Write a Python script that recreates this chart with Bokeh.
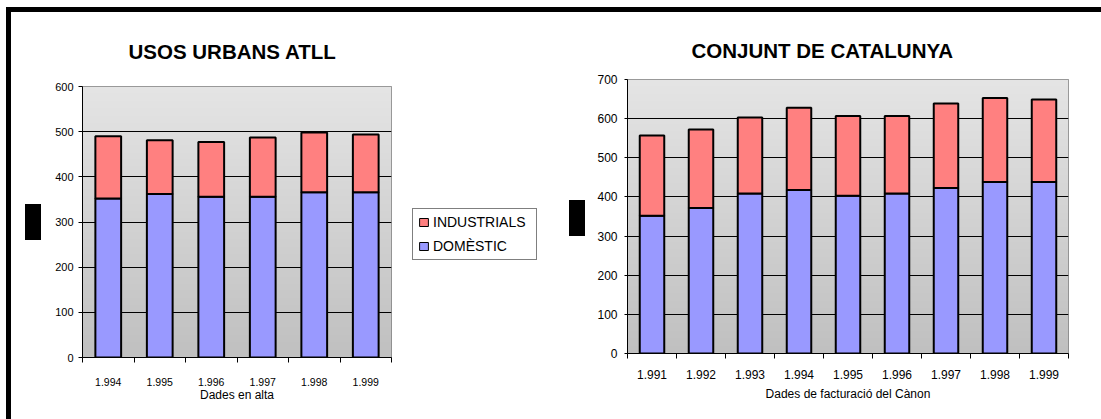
import numpy as np
from bokeh.plotting import figure
from bokeh.layouts import row, column
from bokeh.models import (Range1d, FixedTicker, Legend, LegendItem, ColumnDataSource,
                          Spacer)
from bokeh.embed import file_html
from bokeh.resources import INLINE

# ATLL urban uses (dades en alta)
atll_years = ["1.994", "1.995", "1.996", "1.997", "1.998", "1.999"]
atll_domestic = [352, 362, 356, 356, 366, 366]
atll_industrial = [138, 119, 121, 131, 132, 128]

# Whole of Catalonia (dades de facturació del Cànon)
cat_years = ["1.991", "1.992", "1.993", "1.994", "1.995", "1.996", "1.997", "1.998", "1.999"]
cat_domestic = [352, 372, 409, 418, 403, 409, 423, 438, 438]
cat_industrial = [205, 200, 194, 210, 204, 198, 216, 215, 211]

series_keys = ["domestic", "industrial"]
series_labels = ["DOMÈSTIC", "INDUSTRIALS"]
series_colors = ["#9999FF", "#FF8080"]

FONT = "Liberation Sans"
H = 407  # height below the top rule


def gradient(n_rows=256, bottom=(192, 192, 192), top=(229, 229, 229)):
    t = np.linspace(0.0, 1.0, n_rows)
    img = np.empty((n_rows, 1), dtype=np.uint32)
    view = img.view(dtype=np.uint8).reshape((n_rows, 1, 4))
    for c in range(3):
        view[:, 0, c] = (bottom[c] + (top[c] - bottom[c]) * t).astype(np.uint8)
    view[:, 0, 3] = 255
    return img


def panel(years, domestic, industrial, ymax, title, xlabel, width, height, frame_l,
          frame_r, frame_t, frame_b, ytick_size, xtick_size, ytick_out, ylab_standoff,
          xlab_standoff, xtitle_standoff, title_offset, title_standoff):
    n = len(years)
    centers = [i + 0.5 for i in range(n)]
    bounds = list(range(n + 1))
    p = figure(width=width, height=height, output_backend="svg", toolbar_location=None,
               x_range=Range1d(0, n), y_range=Range1d(0, ymax),
               min_border_left=frame_l, min_border_right=frame_r,
               min_border_top=frame_t, min_border_bottom=frame_b)
    p.background_fill_color = "white"
    p.border_fill_color = "white"
    p.outline_line_color = "#808080"
    p.outline_line_width = 1

    p.image_rgba(image=[gradient()], x=0, y=0, dw=n, dh=ymax, level="image")

    src = ColumnDataSource(dict(x=centers, domestic=domestic, industrial=industrial))
    p.vbar_stack(series_keys, x="x", width=0.5, source=src,
                 fill_color=series_colors, line_color="black", line_width=2)

    # title
    p.title.text = title
    p.title.text_font = FONT
    p.title.text_font_size = "20.5px"
    p.title.text_font_style = "bold"
    p.title.text_color = "black"
    p.title.align = "left"
    p.title.offset = title_offset
    p.title.standoff = title_standoff

    # y axis
    yt = list(range(0, ymax + 1, 100))
    p.yaxis.ticker = FixedTicker(ticks=yt)
    p.yaxis.major_tick_out = ytick_out
    p.yaxis.major_tick_in = 0
    p.yaxis.minor_tick_out = 0
    p.yaxis.axis_line_color = "black"
    p.yaxis.major_tick_line_color = "black"
    p.yaxis.major_label_standoff = ylab_standoff
    p.yaxis.major_label_text_font = FONT
    p.yaxis.major_label_text_font_size = ytick_size
    p.yaxis.major_label_text_color = "black"

    # x axis: labels under bars, ticks between categories
    xa = p.below[0]
    xa.ticker = FixedTicker(ticks=centers, minor_ticks=bounds)
    xa.major_label_overrides = {c: y for c, y in zip(centers, years)}
    xa.major_tick_out = 0
    xa.major_tick_in = 0
    xa.minor_tick_out = 5
    xa.minor_tick_in = 0
    xa.minor_tick_line_color = "black"
    xa.axis_line_color = "black"
    xa.major_label_standoff = xlab_standoff
    xa.major_label_text_font = FONT
    xa.major_label_text_font_size = xtick_size
    xa.major_label_text_color = "black"
    xa.axis_label = xlabel
    xa.axis_label_text_font = FONT
    xa.axis_label_text_font_size = "12px"
    xa.axis_label_text_font_style = "normal"
    xa.axis_label_text_color = "black"
    xa.axis_label_standoff = xtitle_standoff

    p.xgrid.grid_line_color = None
    p.ygrid.grid_line_color = "black"
    p.ygrid.grid_line_width = 1
    return p, src


left, atll_src = panel(atll_years, atll_domestic, atll_industrial, 600,
                       "USOS URBANS ATLL", "Dades en alta", 359, H, 41, 9, 74, 62,
                       "11px", "10.5px", 4, 5, 15, -1, 46, 48)
right, _ = panel(cat_years, cat_domestic, cat_industrial, 700, "CONJUNT DE CATALUNYA",
                 "Dades de facturació del Cànon", 516, H - 5, 42, 33, 62, 66, "12px",
                 "12px", 3, 7, 11, 5, 64, 36)

# legend panel between the two charts
key = figure(width=160, height=H, output_backend="svg", toolbar_location=None,
             x_axis_location=None, y_axis_location=None, min_border=0)
key.outline_line_color = None
key.grid.grid_line_color = None
key.background_fill_color = "white"
key.border_fill_color = "white"
key_rs = key.vbar_stack(series_keys, x="x", width=0.5, source=atll_src,
                        fill_color=series_colors, line_color="black", line_width=1)
for r in key_rs:
    r.visible = False

legend = Legend(items=[LegendItem(label=series_labels[1], renderers=[key_rs[1]]),
                       LegendItem(label=series_labels[0], renderers=[key_rs[0]])],
                location=(12, 159), orientation="vertical")
legend.label_text_font = FONT
legend.label_text_font_size = "14px"
legend.label_text_color = "black"
legend.label_height = 14
legend.label_width = 98
legend.label_standoff = 4
legend.glyph_width = 11
legend.glyph_height = 10
legend.spacing = 8
legend.padding = 5
legend.margin = 0
legend.border_line_color = "black"
legend.border_line_width = 1
legend.background_fill_color = "white"
legend.background_fill_alpha = 1.0
key.add_layout(legend, "center")


def block(w, h, color="black"):
    return Spacer(width=w, height=h, margin=0, styles={"background-color": color})


def gap(w, h):
    return Spacer(width=w, height=h, margin=0)


# marker blocks beside each value axis
marker_left = column(gap(30, 192), row(gap(14, 36), block(16, 36)), gap(30, H - 228))
marker_right = column(gap(25, 188), row(gap(9, 36), block(16, 36)), gap(25, H - 224))

charts = row(marker_left, column(left), column(key), marker_right,
             column(gap(516, 5), right))
framed = column(block(1090, 5), charts)
layout = column(gap(1101, 7), row(gap(6, 412), block(5, 412), framed))

open("out.html", "w").write(file_html(layout, INLINE))
